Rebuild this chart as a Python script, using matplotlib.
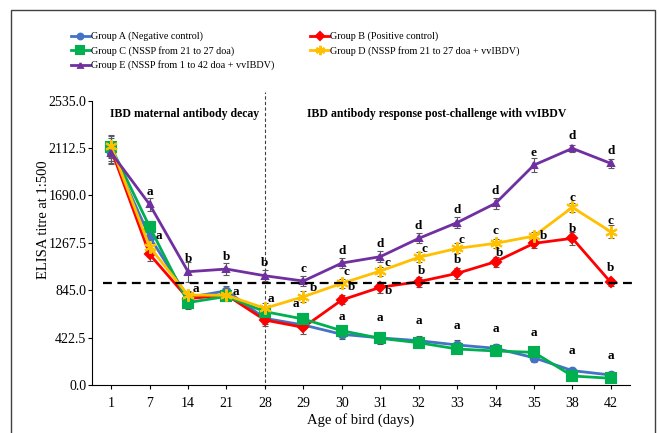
import numpy as np
import matplotlib
matplotlib.use("Agg")
import matplotlib.pyplot as plt
from matplotlib.patches import Rectangle

plt.rcParams['font.family'] = ['Liberation Serif', 'DejaVu Serif']

# ages (days) on the x axis, one category each
days = ['1', '7', '14', '21', '28', '29', '30', '31', '32', '33', '34', '35', '38', '42']

# mean ELISA titres per group
grp_a = [2080, 1320, 780, 840, 594, 535, 452, 420, 395, 357, 327, 243, 128, 89]
grp_b = [2100, 1165, 770, 802, 579, 514, 758, 871, 921, 995, 1099, 1263, 1308, 915]
grp_c = [2120, 1410, 735, 790, 654, 588, 484, 416, 377, 321, 303, 291, 80, 60]
grp_d = [2130, 1230, 802, 800, 684, 787, 906, 1016, 1138, 1218, 1263, 1328, 1584, 1367]
grp_e = [2070, 1610, 1010, 1034, 974, 927, 1087, 1144, 1307, 1448, 1620, 1961, 2110, 1976]

# standard errors
err_a = [100, 50, 50, 40, 50, 40, 40, 50, 45, 45, 40, 40, 25, 20]
err_b = [100, 60, 50, 40, 50, 60, 40, 50, 45, 50, 45, 40, 60, 30]
err_c = [100, 50, 60, 40, 40, 40, 40, 50, 40, 40, 45, 35, 25, 20]
err_d = [100, 60, 40, 40, 50, 50, 40, 40, 45, 45, 40, 40, 40, 60]
err_e = [100, 60, 90, 50, 50, 45, 45, 50, 45, 50, 50, 60, 30, 40]

# significance letters
let_e = ['', 'a', 'b', 'b', 'b', 'c', 'd', 'd', 'd', 'd', 'd', 'e', 'd', 'd']
let_d = ['', 'a', 'a', 'a', 'a', 'b', 'c', 'c', 'c', 'c', 'c', 'b', 'c', 'c']
let_b = ['', '', '', '', '', '', 'b', 'b', 'b', 'b', 'b', '', 'b', 'b']
let_low = ['', '', '', '', '', 'a', 'a', 'a', 'a', 'a', 'a', 'a', 'a', 'a']

cutoff = 912

labels = ['Group A (Negative control)', 'Group B (Positive control)',
          'Group C (NSSP from 21 to 27 doa)', 'Group D (NSSP from 21 to 27 doa + vvIBDV)',
          'Group E (NSSP from 1 to 42 doa + vvIBDV)']

fig = plt.figure(figsize=(6.59, 4.33), dpi=100)
ax = fig.add_axes([0.1396, 0.1109, 0.8164, 0.6565])

x = np.arange(len(days))
series = [
    (grp_a, err_a, '#4472C4', 'o', 5.5),
    (grp_b, err_b, '#FF0000', 'D', 5.5),
    (grp_c, err_c, '#00B050', 's', 7),
    (grp_d, err_d, '#FFC000', (6, 2, 0), 9),
    (grp_e, err_e, '#7030A0', '^', 4.5),
]
handles = []
for (vals, errs, col, mk, ms), lab in zip(series, labels):
    ax.errorbar(x, vals, yerr=errs, fmt='none', ecolor='#595959', elinewidth=0.8,
                capsize=2.5, capthick=0.8, zorder=2)
    h, = ax.plot(x, vals, color=col, lw=2, marker=mk, ms=ms, mfc=col, mec=col,
                 mew=1.5, label=lab, zorder=3)
    handles.append(h)

ax.set_xlim(-0.5, 13.5)
ax.set_ylim(0, 2535)
ax.set_xticks(x)
ax.set_xticklabels(days)
yt = np.arange(0, 2536, 422.5)
ax.set_yticks(yt)
ax.set_yticklabels(['%.1f' % v for v in yt])
ax.tick_params(labelsize=10, direction='out', width=0.8)
ax.tick_params(axis='y', length=3, pad=1)
ax.tick_params(axis='x', length=3, pad=6)
for s in ['top', 'right']:
    ax.spines[s].set_visible(False)
ax.set_ylabel('ELISA titre at 1:500', fontsize=10.5)
ax.yaxis.set_label_coords(-0.078, 0.58)
ax.set_xlabel('Age of bird (days)', fontsize=10.5, labelpad=2)

# cut-off and challenge lines
ax.plot([-0.22, 13.68], [cutoff, cutoff], ls=(0, (4, 2.5)), color='black', lw=1.6,
        clip_on=False, zorder=4)
ax.plot([4, 4], [-30, 2612], ls=(0, (3, 2)), color='#404040', lw=0.8, clip_on=False, zorder=1)

ax.text(1.92, 2416, 'IBD maternal antibody decay', ha='center', va='center',
        fontsize=8.5, fontweight='bold')
ax.text(8.48, 2416, 'IBD antibody response post-challenge with vvIBDV', ha='center',
        va='center', fontsize=8.5, fontweight='bold')

# letter offsets in points (dx, dy)
off_e = [(0, 9)] * 14
off_d = [(0, 0), (7, 8), (6, 4), (7, 2), (4, 7), (7, 6), (3, 8), (5, 6), (4, 6),
         (3, 6), (0, 9), (7, 0), (0, 7), (0, 8)]
off_b = [(0, 0)] * 6 + [(7, 9), (6, -3), (2, 8), (0, 10), (3, 6), (0, 0), (0, 7), (0, 10)]
off_low = [(0, 14)] * 14
off_low[5] = (-5, 11)
off_low[6] = (0, 10)

low_anchor = np.maximum(grp_a, grp_c)
groups = [(let_e, grp_e, off_e), (let_d, grp_d, off_d), (let_b, grp_b, off_b),
          (let_low, low_anchor, off_low)]
for lets, vals, offs in groups:
    for i, t in enumerate(lets):
        if not t:
            continue
        ax.annotate(t, (i, vals[i]), xytext=offs[i], textcoords='offset points',
                    ha='center', va='center', fontsize=9.5, fontweight='bold', zorder=5)

order = [0, 2, 4, 1, 3]
fig.legend([handles[k] for k in order], [labels[k] for k in order], ncol=2,
           loc='upper left', bbox_to_anchor=(0.102, 0.936), frameon=False,
           fontsize=7.3, handlelength=1.8, handletextpad=0.1, labelspacing=0.45,
           columnspacing=3.6, borderaxespad=0, markerscale=0.75)

fig.patches.append(Rectangle((11 / 659, -0.05), 644 / 659, 1 - 10 / 433 + 0.05,
                             transform=fig.transFigure, fill=False, ec='#404040', lw=1))

fig.savefig('out.png', dpi=100)
